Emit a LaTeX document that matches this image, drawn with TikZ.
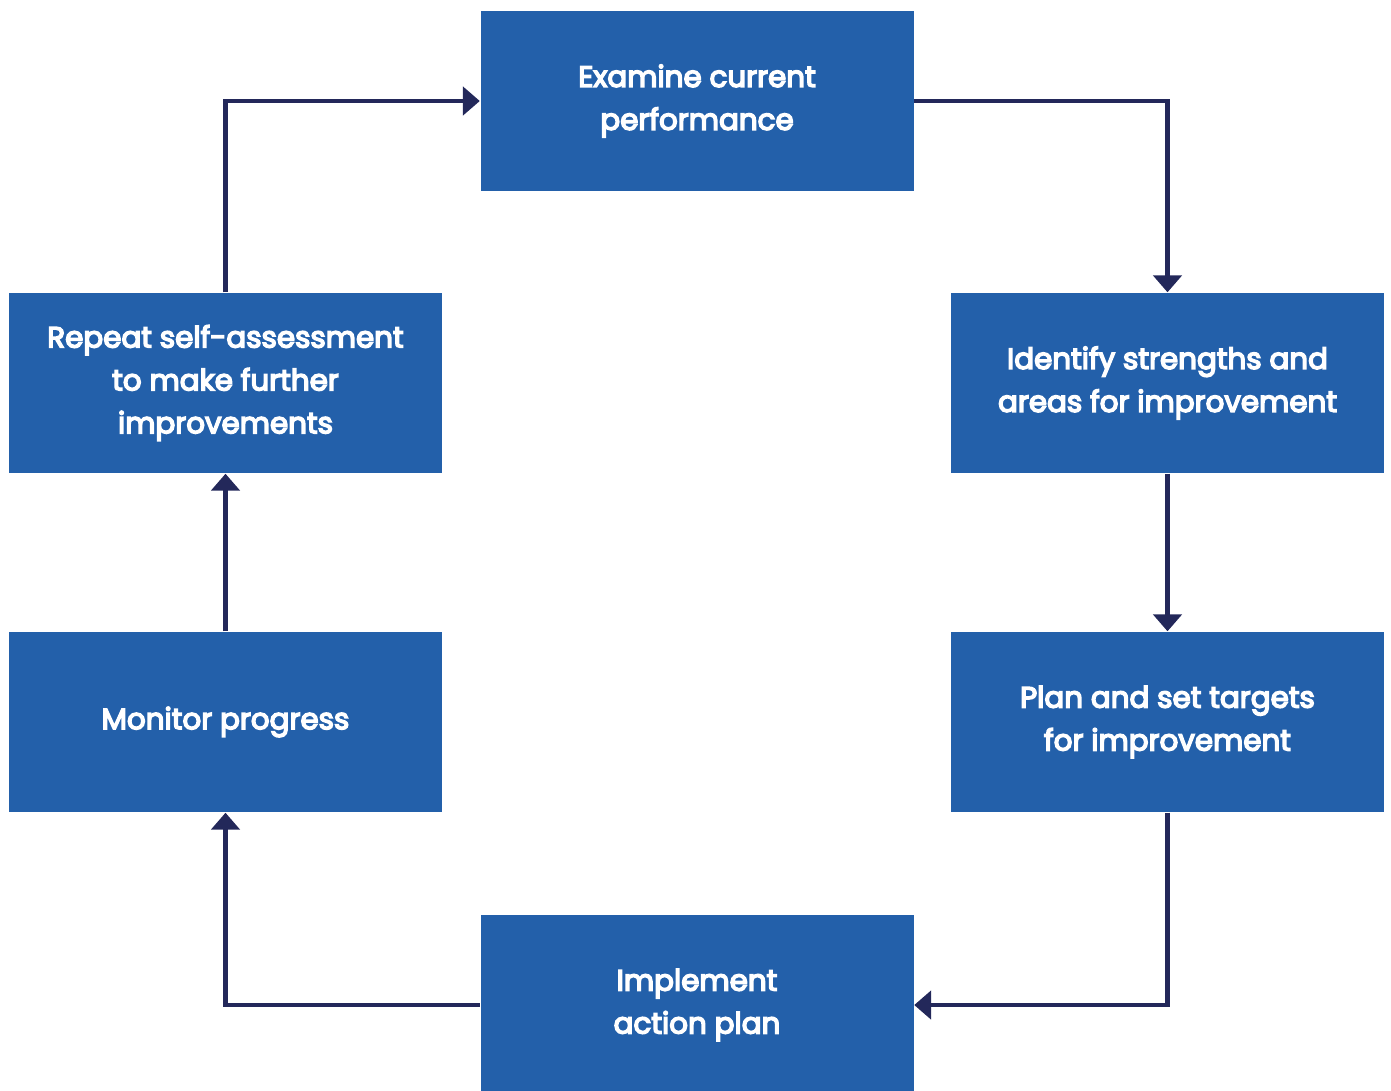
\documentclass[tikz,border=0pt]{standalone}
\usepackage{fontspec}
\setmainfont{Poppins}[FakeBold=5]
\usetikzlibrary{arrows.meta}
\definecolor{boxblue}{RGB}{35,96,170}
\definecolor{arrnavy}{RGB}{35,40,90}
\begin{document}
\begin{tikzpicture}[x=0.01cm,y=-0.01cm,
  stepbox/.style={fill=boxblue,draw=none,minimum width=433*0.01cm,minimum height=180*0.01cm,
    text=white,align=center,font=\fontsize{8.35}{12.2}\selectfont,inner sep=0pt},
  conn/.style={draw=arrnavy,line width=1.15pt,-{Triangle[length=4.8pt,width=8pt]}}]
\useasboundingbox (0,0) rectangle (1391,1090);
\node[stepbox] (exam) at (697,101) {Examine current\\performance};
\node[stepbox] (ident) at (1167.5,383) {Identify strengths and\\areas for improvement};
\node[stepbox] (plan) at (1167.5,722) {Plan and set targets\\for improvement};
\node[stepbox] (impl) at (697,1005) {Implement\\action plan};
\node[stepbox] (mon) at (225.5,722) {Monitor progress};
\node[stepbox] (rep) at (225.5,383) {Repeat self-assessment\\to make further\\improvements};
\draw[conn] (rep.north) |- (exam.west);
\draw[conn] (exam.east) -| (ident.north);
\draw[conn] (ident.south) -- (plan.north);
\draw[conn] (plan.south) |- (impl.east);
\draw[conn] (impl.west) -| (mon.south);
\draw[conn] (mon.north) -- (rep.south);
\end{tikzpicture}
\end{document}
